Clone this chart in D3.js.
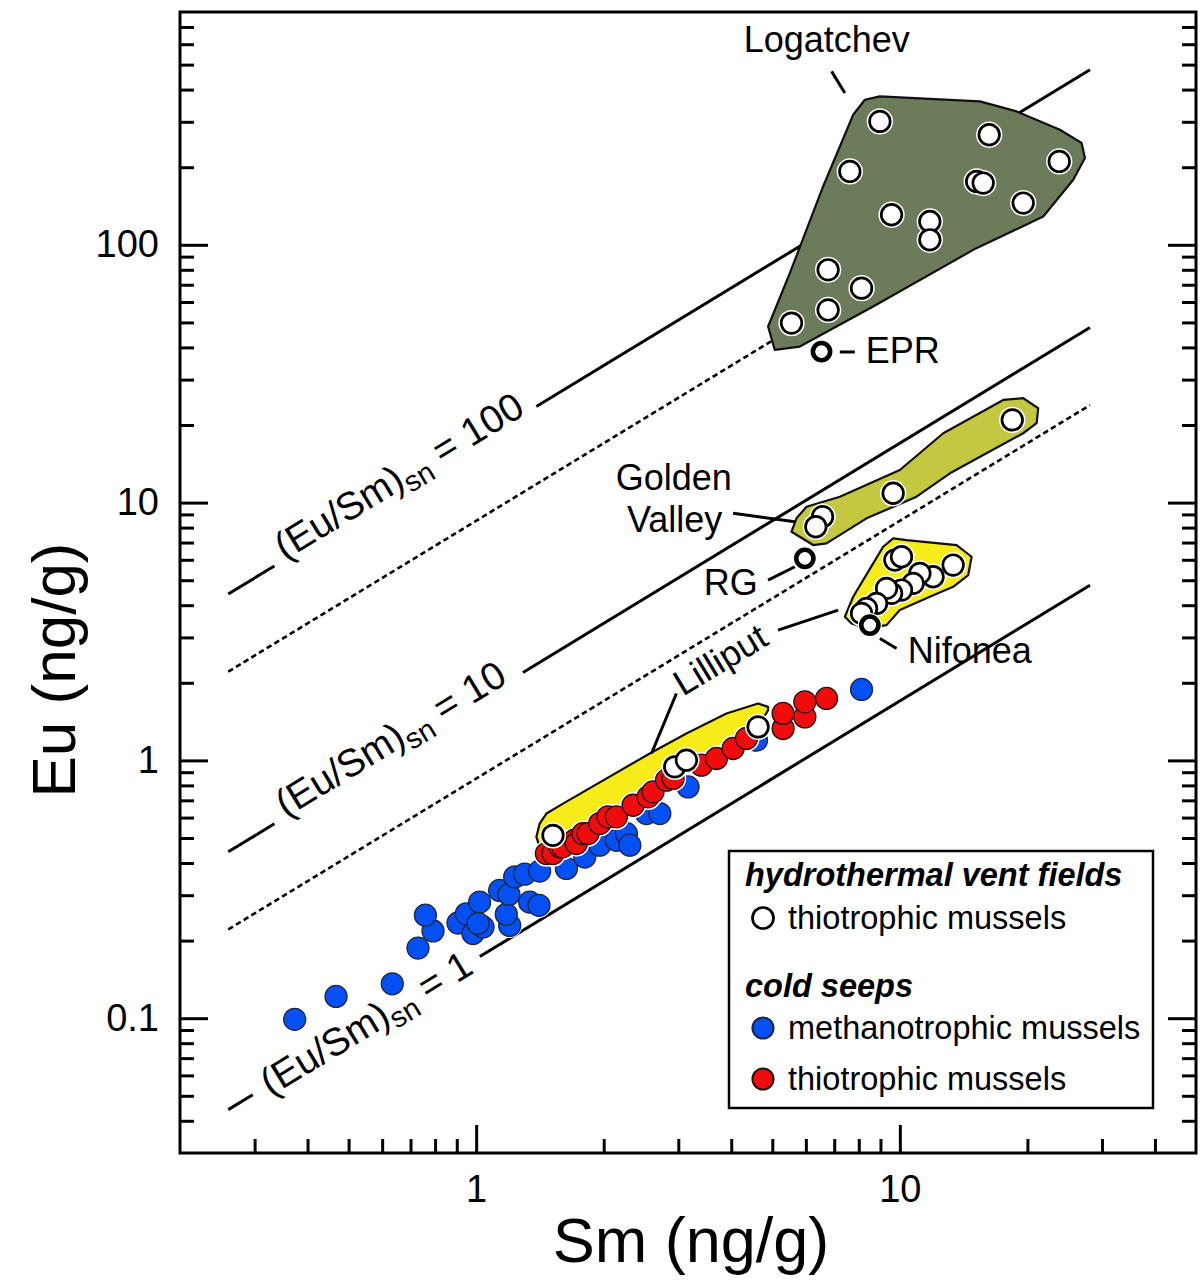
<!DOCTYPE html>
<html>
<head>
<meta charset="utf-8">
<script src="https://cdn.jsdelivr.net/npm/d3@7"></script>
<style>
  body { margin: 0; background: #fff; }
  svg text { white-space: pre; }
</style>
</head>
<body>
<svg id="chart" width="1202" height="1285"></svg>
<script>
// ---------------- DATA ----------------
const xMajorTicks = [1, 10];
const xTickLabels = ["1", "10"];
const yMajorTicks = [0.1, 1, 10, 100];
const yTickLabels = ["0.1", "1", "10", "100"];
const xTitle = "Sm (ng/g)";
const yTitle = "Eu (ng/g)";

// cold seeps – methanotrophic mussels (Sm, Eu)
const seepMethano = [
  [0.373,0.099],[0.467,0.1215],[0.634,0.136],[0.729,0.187],[0.791,0.218],[0.759,0.251],
  [0.906,0.234],[0.948,0.254],[1.019,0.282],[0.983,0.213],[1.038,0.226],[1.010,0.233],
  [1.200,0.229],[1.178,0.253],[1.136,0.313],[1.195,0.302],[1.233,0.353],[1.302,0.362],
  [1.412,0.372],[1.338,0.282],[1.407,0.274],[1.633,0.381],[1.804,0.422],[1.957,0.469],
  [2.143,0.49],[2.263,0.52],[2.305,0.469],[2.523,0.622],[2.713,0.622],[3.163,0.789],
  [4.587,1.198],[8.121,1.885]
];
// cold seeps – thiotrophic mussels
const seepThio = [
  [1.465,0.435],[1.518,0.435],[1.575,0.462],[1.6,0.462],[1.708,0.49],[1.724,0.476],
  [1.787,0.52],[1.837,0.52],[1.957,0.569],[2.047,0.604],[2.143,0.604],[2.346,0.67],
  [2.545,0.722],[2.615,0.755],[2.813,0.838],[2.916,0.851],[3.402,0.958],[3.692,1.017],
  [4.041,1.112],[4.345,1.216],[5.302,1.33],[5.302,1.521],[5.967,1.475],[5.967,1.687],
  [6.713,1.739]
];
// hydrothermal vents – thiotrophic mussels
const ventLilliput = [[1.518,0.512],[2.942,0.944],[3.135,1.002],[4.628,1.349]];
const ventLogatchev = [
  [8.971,301.1],[16.25,267.3],[23.78,210.6],[7.62,192.6],[15.18,176.1],[15.73,173.6],
  [19.55,145.2],[9.559,130.8],[11.77,123.2],[11.77,104.6],[6.772,80.0],[8.121,67.9],
  [6.772,55.9],[5.55,49.7]
];
const ventGoldenValley = [[18.42,20.93],[9.643,10.87],[6.569,8.818],[6.334,8.059]];
const ventNifoneaCluster = [
  [9.732,5.986],[10.09,6.166],[13.36,5.724],[11.98,5.158],[11.15,5.317],[10.75,4.861],
  [10.09,4.579],[9.559,4.446],[9.302,4.649],[8.81,4.065],[8.345,3.888],[8.121,3.718]
];
const singleNames = ["EPR", "RG", "Nifonea"];
const singleSm = [6.533, 5.967, 8.496];
const singleEu = [38.53, 6.078, 3.348];

// field outlines (Sm, Eu)
const hullLogatchev = [
  [8.27,365.5],[8.971,376.4],[15.45,360],[18.86,329.2],[23.87,279.5],[26.85,248.3],
  [27.34,217.1],[25.66,178.8],[21.8,128.8],[14.9,95.6],[8.65,57.6],[5.807,40.3],
  [5.068,39.1],[4.887,48.2],[5.5,77.6],[6.59,168.4],[7.76,319.6]
];
const hullGoldenValley = [
  [5.703,8.69],[6.022,9.64],[7.218,10.54],[10.0,13.38],[12.66,18.58],[17.54,25.02],
  [19.55,25.41],[21.21,23.23],[21.03,20.32],[19.55,18.58],[13.13,12.99],[10.95,10.54],
  [8.345,8.69],[6.713,6.95],[6.243,6.845],[5.55,7.71]
];
const hullUpperYellow = [
  [9.643,7.268],[10.37,7.158],[13.61,6.845],[14.77,6.166],[14.5,5.237],[13.36,4.716],
  [11.77,4.312],[10.0,3.829],[9.302,3.348],[8.345,3.251],[7.691,3.4],[7.416,3.607],
  [7.76,4.312],[8.65,5.812],[9.133,6.742]
];
const hullLilliput = [
  [1.412,0.569],[1.387,0.505],[1.412,0.462],[1.575,0.469],[2.615,0.789],[4.504,1.253],
  [4.887,1.566],[4.887,1.613],[4.628,1.663],[3.898,1.521],[3.135,1.272],[2.569,1.064],
  [1.603,0.68],[1.465,0.622]
];

// reference lines (Eu/Sm)sn
const euSmNorm = 0.17;
const refRatios = [1, 10, 100];
const refGaps = [[0.297, 1.02], [0.334, 1.29], [0.334, 1.387]];
const refLabelSm = [0.553, 0.65, 0.68];
const refLabelOffset = [11, 1, 1];
const lineSmRange = [0.26, 28.1];
const dottedRatios = [5, 50];
const dottedSmRange = [[0.26, 28.1], [0.26, 5.5]];

// annotation labels (Sm, Eu of anchor)
const annoText = ["Logatchev", "EPR", "Golden", "Valley", "RG", "Nifonea"];
const annoSm = [6.724, 8.31, 2.927, 2.94, 4.62, 10.44];
const annoEu = [561.3, 34.8, 11.19, 7.69, 4.378, 2.384];
const annoAnchor = ["middle", "start", "middle", "middle", "end", "start"];
const lilliputAnchor = [3.078, 1.764];
// leader lines [[Sm,Eu],[Sm,Eu]]
const leaders = [
  [[6.9,470.8],[7.416,388]],
  [[7.218,38.4],[7.83,38.4]],
  [[4.041,9.09],[5.651,8.43]],
  [[4.887,5.006],[5.651,5.638]],
  [[2.969,1.818],[2.593,1.064]],
  [[5.159,3.202],[7.151,3.829]],
  [[8.971,2.973],[9.822,2.719]]
];

// legend
const legendHeads = ["hydrothermal vent fields", "cold seeps"];
const legendItems = ["thiotrophic mussels", "methanotrophic mussels", "thiotrophic mussels"];

// ---------------- DRAW ----------------
const FONT = '"Liberation Sans", Arial, Helvetica, sans-serif';
const svg = d3.select("#chart").attr("font-family", FONT);
svg.append("rect").attr("width", 1202).attr("height", 1285).attr("fill", "#fff");

const L = 180, R = 1196, T = 12, B = 1153;
const x = d3.scaleLog().domain([0.2, 50]).range([L, R]);
const y = d3.scaleLog().domain([0.03, 800]).range([B, T]);
const line = d3.line().x(d => x(d[0])).y(d => y(d[1]));
const closed = d3.line().x(d => x(d[0])).y(d => y(d[1])).curve(d3.curveLinearClosed);

const COL = {
  blue: "#0550f5", red: "#f00c0c", olive: "#6c7c5a", gold: "#c4c840", yellow: "#f5ec19"
};

// reference lines
const gRef = svg.append("g");
refRatios.forEach((r, i) => {
  const k = euSmNorm * r;
  [[lineSmRange[0], refGaps[i][0]], [refGaps[i][1], lineSmRange[1]]].forEach(s => {
    gRef.append("path").attr("d", line(s.map(v => [v, v * k])))
      .attr("fill", "none").attr("stroke", "#000").attr("stroke-width", 3);
  });
});
dottedRatios.forEach((r, i) => {
  const k = euSmNorm * r;
  gRef.append("path").attr("d", line(dottedSmRange[i].map(v => [v, v * k])))
    .attr("fill", "none").attr("stroke", "#000").attr("stroke-width", 2.6)
    .attr("stroke-dasharray", "5.5,3.5");
});

const ang = Math.atan2(y(10) - y(1), x(10) - x(1)) * 180 / Math.PI;
refRatios.forEach((r, i) => {
  const sm = refLabelSm[i], eu = sm * euSmNorm * r;
  const t = gRef.append("text")
    .attr("transform", `translate(${x(sm)},${y(eu)}) rotate(${ang}) translate(0,${refLabelOffset[i]})`)
    .attr("text-anchor", "middle").attr("font-size", 39).attr("fill", "#000");
  t.append("tspan").text("(Eu/Sm)");
  t.append("tspan").attr("font-size", 29).attr("dy", 8).text("sn");
  t.append("tspan").attr("dy", -8).text(" = " + r);
});

// field outlines
const gHull = svg.append("g").attr("stroke", "#111").attr("stroke-width", 2.2).attr("stroke-linejoin", "round");
gHull.append("path").attr("d", closed(hullLogatchev)).attr("fill", COL.olive);
gHull.append("path").attr("d", closed(hullGoldenValley)).attr("fill", COL.gold);
gHull.append("path").attr("d", closed(hullUpperYellow)).attr("fill", COL.yellow);
gHull.append("path").attr("d", closed(hullLilliput)).attr("fill", COL.yellow);

// points with white halo
function points(data, fill, stroke, sw, r, halo) {
  const g = svg.append("g");
  g.selectAll("circle.h").data(data).join("circle").attr("class", "h")
    .attr("cx", d => x(d[0])).attr("cy", d => y(d[1]))
    .attr("r", r + sw / 2 + halo).attr("fill", "#fff");
  g.selectAll("circle.p").data(data).join("circle").attr("class", "p")
    .attr("cx", d => x(d[0])).attr("cy", d => y(d[1]))
    .attr("r", r).attr("fill", fill).attr("stroke", stroke).attr("stroke-width", sw);
}
points(seepMethano, COL.blue, "#1b2848", 1.3, 11, 0.8);
points(seepThio, COL.red, "#2a1010", 1.3, 11, 1.5);
points(ventLilliput, "#fff", "#000", 2.7, 10.3, 1.5);
points(ventLogatchev, "#fff", "#000", 2.7, 10.3, 1.5);
points(ventGoldenValley, "#fff", "#000", 2.7, 10.3, 1.5);
points(ventNifoneaCluster, "#fff", "#000", 2.7, 10.3, 1.5);
points(singleSm.map((s, i) => [s, singleEu[i]]), "#fff", "#000", 4.6, 8.6, 1.2);

// annotations
const gAnno = svg.append("g");
leaders.forEach(l => gAnno.append("path").attr("d", line(l))
  .attr("stroke", "#000").attr("stroke-width", 3).attr("fill", "none"));
annoText.forEach((t, i) => {
  gAnno.append("text").attr("x", x(annoSm[i])).attr("y", y(annoEu[i]))
    .attr("text-anchor", annoAnchor[i]).attr("font-size", 36).text(t);
});
gAnno.append("text")
  .attr("transform", `translate(${x(lilliputAnchor[0])},${y(lilliputAnchor[1])}) rotate(${ang})`)
  .attr("font-size", 36).text("Lilliput");

// axes
const xMinor = x.ticks().filter(v => !xMajorTicks.some(m => Math.abs(m - v) < 1e-9) && v > 0.2 && v < 50);
const yMinor = y.ticks().filter(v => !yMajorTicks.some(m => Math.abs(m - v) < 1e-9) && v > 0.03 && v < 800);
const fmt = (vals, labels) => v => labels[vals.findIndex(m => Math.abs(m - v) < 1e-9)];

function styleAxis(g) {
  g.select(".domain").remove();
  g.selectAll(".tick line").attr("stroke", "#000").attr("stroke-width", 3);
  g.selectAll(".tick text").attr("font-size", 38).attr("font-family", FONT).attr("fill", "#000");
}
svg.append("g").attr("transform", `translate(0,${B})`)
  .call(d3.axisBottom(x).tickValues(xMajorTicks).tickFormat(fmt(xMajorTicks, xTickLabels)).tickSize(-28).tickPadding(22))
  .call(styleAxis);
svg.append("g").attr("transform", `translate(0,${B})`)
  .call(d3.axisBottom(x).tickValues(xMinor).tickFormat("").tickSize(-14))
  .call(styleAxis);
svg.append("g").attr("transform", `translate(${L},0)`)
  .call(d3.axisLeft(y).tickValues(yMajorTicks).tickFormat(fmt(yMajorTicks, yTickLabels)).tickSize(-28).tickPadding(21))
  .call(styleAxis);
svg.append("g").attr("transform", `translate(${L},0)`)
  .call(d3.axisLeft(y).tickValues(yMinor).tickFormat("").tickSize(-14))
  .call(styleAxis);
svg.append("g").attr("transform", `translate(${R},0)`)
  .call(d3.axisRight(y).tickValues(yMajorTicks).tickFormat("").tickSize(-28))
  .call(styleAxis);
svg.append("g").attr("transform", `translate(${R},0)`)
  .call(d3.axisRight(y).tickValues(yMinor).tickFormat("").tickSize(-14))
  .call(styleAxis);

svg.append("rect").attr("x", L).attr("y", T).attr("width", R - L).attr("height", B - T)
  .attr("fill", "none").attr("stroke", "#000").attr("stroke-width", 3);

// axis titles
svg.append("text").attr("x", (L + R) / 2 + 3).attr("y", 1262).attr("text-anchor", "middle")
  .attr("font-size", 63).text(xTitle);
svg.append("text").attr("transform", "translate(75,670) rotate(-90)").attr("text-anchor", "middle")
  .attr("font-size", 62).text(yTitle);

// legend
const gLeg = svg.append("g");
gLeg.append("rect").attr("x", 729).attr("y", 851).attr("width", 424).attr("height", 257)
  .attr("fill", "#fff").attr("stroke", "#000").attr("stroke-width", 2.5);
const headY = [886, 997];
legendHeads.forEach((h, i) => gLeg.append("text").attr("x", 745).attr("y", headY[i])
  .attr("font-size", 32.5).attr("font-weight", "bold").attr("font-style", "italic").text(h));
const itemY = [918, 1028, 1079];
const itemFill = ["#fff", COL.blue, COL.red];
const itemStroke = ["#000", "#1b2848", "#2a1010"];
const itemSw = [2.7, 1.5, 1.5];
legendItems.forEach((t, i) => {
  gLeg.append("circle").attr("cx", 763).attr("cy", itemY[i]).attr("r", 10.5)
    .attr("fill", itemFill[i]).attr("stroke", itemStroke[i]).attr("stroke-width", itemSw[i] + (i ? 0.6 : 0));
  gLeg.append("text").attr("x", 788).attr("y", itemY[i] + 11).attr("font-size", 32.5).text(t);
});
</script>
</body>
</html>
